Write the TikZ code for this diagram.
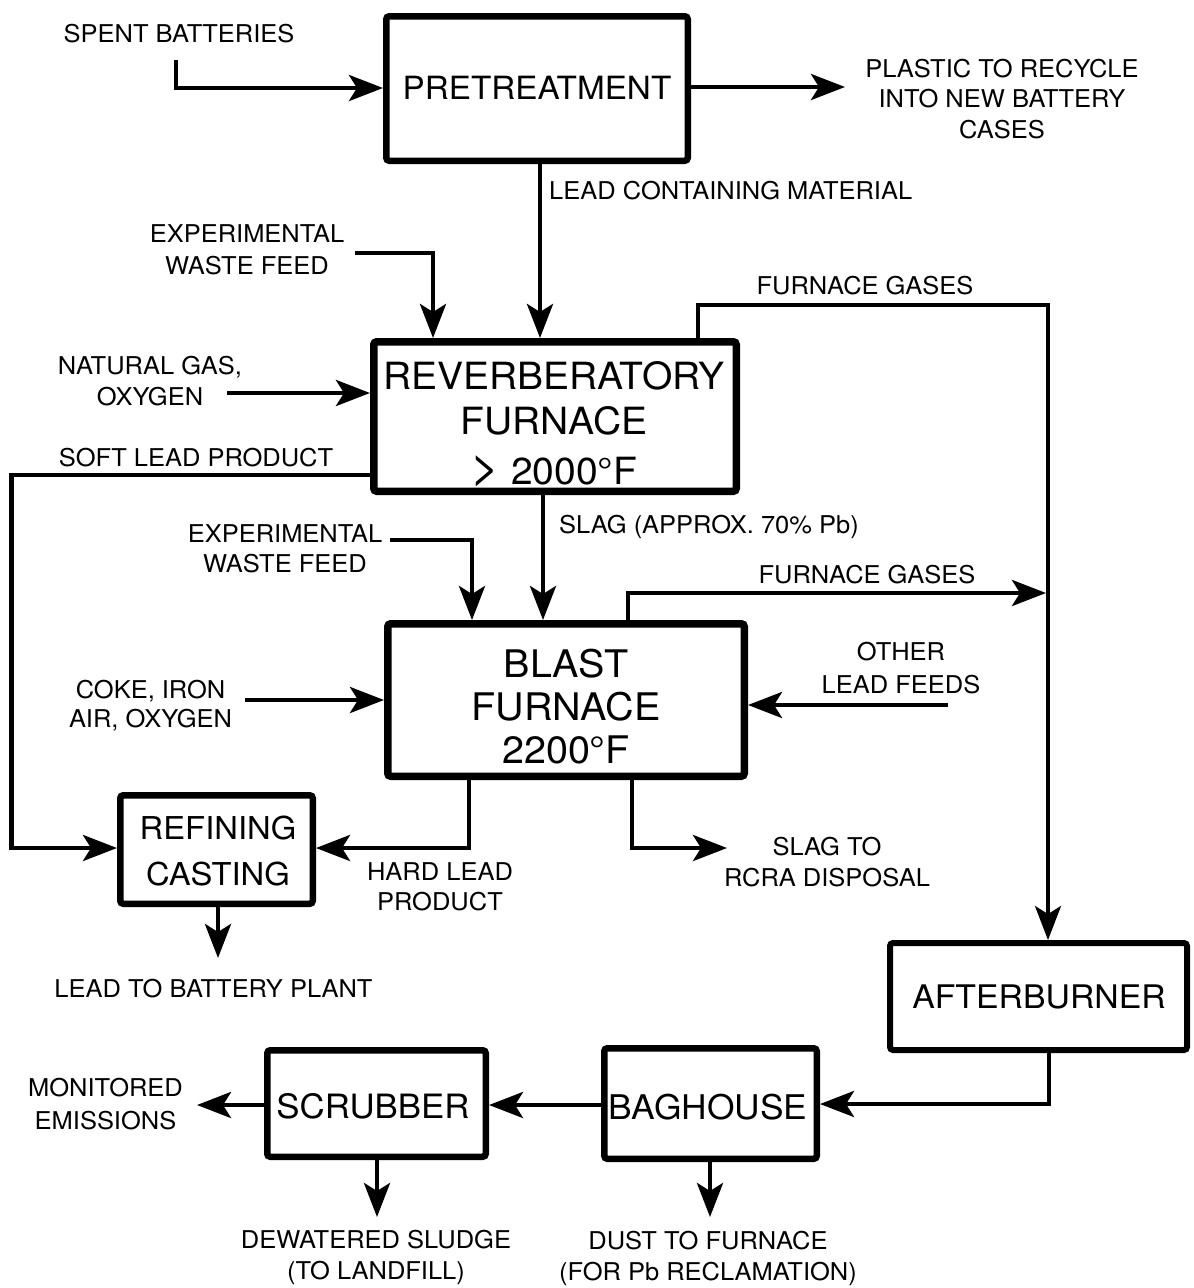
\documentclass[tikz,border=0pt]{standalone}
\usepackage{fontspec}
\setmainfont{TeX Gyre Heros}[FakeStretch=1.04]
\usetikzlibrary{arrows.meta}
\tikzset{
  box/.style={draw, rounded corners=3pt, inner sep=0pt},
  conn/.style={line width=4.5pt, -{Stealth[length=34pt,width=26pt,inset=8pt]}},
  lbl/.style={font=\fontsize{24.5}{#1}\selectfont, anchor=north, align=center, inner sep=0pt},
  lbl/.default=31,
  big/.style n args={2}{font=\fontsize{#1}{#2}\selectfont, anchor=north, align=center, inner sep=0pt}
}
\begin{document}
\begin{tikzpicture}[x=1pt,y=-1pt]
\useasboundingbox (0,0) rectangle (1194,1288);

% boxes
\node[box, line width=6.5pt, minimum width=301.5pt, minimum height=144.5pt] (pre) at (537,88.5) {};
\node[box, line width=7.5pt, minimum width=362.5pt, minimum height=149.5pt] (rev) at (555,416.5) {};
\node[box, line width=7.5pt, minimum width=356.5pt, minimum height=152.5pt] (blast) at (566,700) {};
\node[box, line width=6.5pt, minimum width=192.5pt, minimum height=108.5pt] (ref) at (216.5,849.5) {};
\node[box, line width=6pt, minimum width=297pt, minimum height=107pt] (aft) at (1038.5,996.5) {};
\node[box, line width=6.5pt, minimum width=212.5pt, minimum height=110.5pt] (bag) at (710.5,1103.5) {};
\node[box, line width=6.5pt, minimum width=218.5pt, minimum height=106.5pt] (scr) at (376.5,1103.5) {};

% box texts
\node[big={32}{37}] (preT) at (537,75.5) {PRETREATMENT};
\node[big={37.5}{45}] (revT) at (554,361.5) {REVERBERATORY\\FURNACE\\[5pt]\raisebox{1.5pt}{\scalebox{1.3}{>}} 2000°F};
\node[big={38}{43}] (blastT) at (566,649) {BLAST\\FURNACE\\2200°F};
\node[big={31.5}{46}] (refT) at (218,815.5) {REFINING\\CASTING};
\node[big={32.5}{40}] (aftT) at (1039,984.3) {AFTERBURNER};
\node[big={34}{40}] (bagT) at (708,1094.3) {BAGHOUSE};
\node[big={33.5}{40}] (scrT) at (373,1093) {SCRUBBER};

% labels
\node[lbl] (sbL) at (179,23.7) {SPENT BATTERIES};
\node[lbl=30.5] (plL) at (1002,58.7) {PLASTIC TO RECYCLE\\INTO NEW BATTERY\\CASES};
\node[lbl, anchor=north west] (lcL) at (549,181.2) {LEAD CONTAINING MATERIAL};
\node[lbl=31.5] (ex1L) at (247,224.7) {EXPERIMENTAL\\WASTE FEED};
\node[lbl] (fg1L) at (865,276.2) {FURNACE GASES};
\node[lbl] (ngL) at (150,356.2) {NATURAL GAS,\\OXYGEN};
\node[lbl] (slL) at (196,448.2) {SOFT LEAD PRODUCT};
\node[lbl, anchor=north west] (slagL) at (559,515.2) {SLAG (APPROX. 70\% Pb)};
\node[lbl=30] (ex2L) at (285,524.2) {EXPERIMENTAL\\WASTE FEED};
\node[lbl] (fg2L) at (867,564.7) {FURNACE GASES};
\node[lbl=29.5] (ckL) at (150.5,679.7) {COKE, IRON\\AIR, OXYGEN};
\node[lbl=33] (olL) at (901,642.2) {OTHER\\LEAD FEEDS};
\node[lbl=30.5] (hlL) at (440,862.2) {HARD LEAD\\PRODUCT};
\node[lbl] (srL) at (827,837.2) {SLAG TO\\RCRA DISPOSAL};
\node[lbl] (ltbL) at (213.5,978.7) {LEAD TO BATTERY PLANT};
\node[lbl=33] (monL) at (105.5,1078.2) {MONITORED\\EMISSIONS};
\node[lbl] (dsL) at (376,1230.2) {DEWATERED SLUDGE\\(TO LANDFILL)};
\node[lbl] (dfL) at (708,1231.2) {DUST TO FURNACE\\(FOR Pb RECLAMATION)};

% free ends
\coordinate (sbS) at (176,60);
\coordinate (plE) at (845,87);
\coordinate (ex1) at (355,253);
\coordinate (ng) at (227,393);
\coordinate (fgC) at (1048,305);
\coordinate (slC) at (11.5,848);
\coordinate (ex2) at (390,540);
\coordinate (fg2) at (1046,593);
\coordinate (ck) at (245,700);
\coordinate (ol) at (948,705);
\coordinate (slagE) at (727,848);
\coordinate (ltb) at (218,958);
\coordinate (monE) at (197,1105);
\coordinate (sludgeE) at (377,1217);
\coordinate (dustE) at (710,1217);

% connectors
\draw[conn] (sbS) |- (pre.west |- 0,88);
\draw[conn] (pre.east |- plE) -- (plE);
\draw[conn] (pre.south -| 540,0) -- (rev.north -| 540,0);
\draw[conn] (ex1) -| (rev.north -| 433,0);
\draw[conn] (ng) -- (rev.west |- ng);
\draw[conn, line width=3.5pt] (rev.north -| 698,0) |- (fgC) -- (aft.north -| fgC);
\draw[conn] (rev.west |- 0,475) -| (slC) -- (ref.west |- slC);
\draw[conn] (rev.south -| 543,0) -- (blast.north -| 543,0);
\draw[conn] (ex2) -| (blast.north -| 472,0);
\draw[conn] (blast.north -| 628,0) |- (fg2);
\draw[conn] (ck) -- (blast.west |- ck);
\draw[conn] (ol) -- (blast.east |- ol);
\draw[conn] (blast.south -| 469,0) |- (ref.east |- 0,848);
\draw[conn] (blast.south -| 632,0) |- (slagE);
\draw[conn] (ref.south -| ltb) -- (ltb);
\draw[conn] (aft.south -| 1049,0) |- (bag.east |- 0,1104);
\draw[conn] (bag.west |- 0,1105) -- (scr.east |- 0,1105);
\draw[conn] (scr.west |- monE) -- (monE);
\draw[conn] (scr.south -| sludgeE) -- (sludgeE);
\draw[conn] (bag.south -| dustE) -- (dustE);
\end{tikzpicture}
\end{document}
